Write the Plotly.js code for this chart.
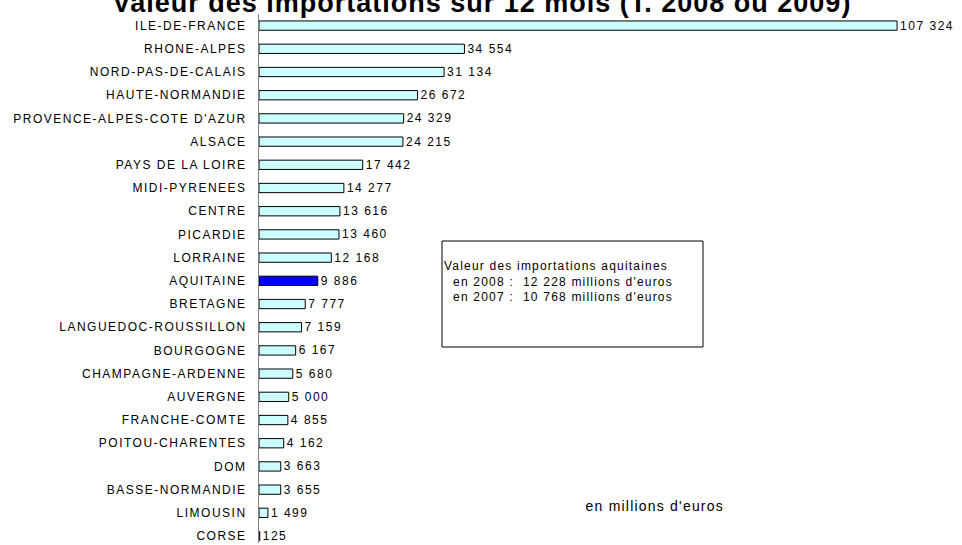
<!DOCTYPE html>
<html>
<head>
<meta charset="utf-8">
<script src="https://cdn.plot.ly/plotly-3.0.1.min.js"></script>
<style>
html,body{margin:0;padding:0;background:#fff;}
#chart{width:962px;height:545px;}
#chart .ytick text{letter-spacing:1.5px;}
.bartext{letter-spacing:1.5px;}
#chart .annotation-text{letter-spacing:1.2px;}
#chart .annotation:nth-of-type(2) .annotation-text{letter-spacing:1.5px;}
.gtitle{letter-spacing:1px;}
</style>
</head>
<body>
<div id="chart"></div>
<script>
const regions = ["ILE-DE-FRANCE","RHONE-ALPES","NORD-PAS-DE-CALAIS","HAUTE-NORMANDIE","PROVENCE-ALPES-COTE D'AZUR","ALSACE","PAYS DE LA LOIRE","MIDI-PYRENEES","CENTRE","PICARDIE","LORRAINE","AQUITAINE","BRETAGNE","LANGUEDOC-ROUSSILLON","BOURGOGNE","CHAMPAGNE-ARDENNE","AUVERGNE","FRANCHE-COMTE","POITOU-CHARENTES","DOM","BASSE-NORMANDIE","LIMOUSIN","CORSE"];
const importValues = [107324,34554,31134,26672,24329,24215,17442,14277,13616,13460,12168,9886,7777,7159,6167,5680,5000,4855,4162,3663,3655,1499,125];
const highlightRegion = "AQUITAINE";
const titleText = "Valeur des importations sur 12 mois (T. 2008 ou 2009)";
const boxLines = ["Valeur des importations aquitaines","  en 2008 :  12 228 millions d'euros","  en 2007 :  10 768 millions d'euros"];
const unitNote = "en millions d'euros";

const colors = regions.map(r => r === highlightRegion ? "#0000FF" : "#CCFFFF");
const FONT = "Liberation Sans, Arial, sans-serif";

const trace = {
  type: "bar",
  orientation: "h",
  x: importValues,
  y: regions,
  marker: {color: colors, line: {color: "#000000", width: 1}},
  width: 0.4,
  texttemplate: "%{x:,}",
  textposition: "outside",
  constraintext: "none",
  cliponaxis: false,
  textfont: {family: FONT, size: 12, color: "#000"},
  hoverinfo: "none"
};

const L = 259, R = 49, T = 14, B = 2;
const PW = 962 - L - R, PH = 545 - T - B;
const px = x => (x - L) / PW;
const py = y => (545 - B - y) / PH;

const layout = {
  width: 962, height: 545,
  margin: {l: L, r: R, t: T, b: B},
  separators: ", ",
  paper_bgcolor: "#fff", plot_bgcolor: "#fff",
  showlegend: false,
  font: {family: FONT, size: 12, color: "#000"},
  title: {text: "<b>" + titleText + "</b>", font: {family: FONT, size: 27, color: "#000"},
          x: 482/962, xref: "container", xanchor: "center", y: 1 - 2.5/545, yref: "container", yanchor: "middle"},
  xaxis: {range: [0, 110000], visible: false, fixedrange: true},
  yaxis: {
    type: "category",
    range: [22.3, -0.5],
    showline: true, linecolor: "#808080", linewidth: 1,
    showgrid: false, zeroline: false,
    ticks: "", ticklen: 0,
    ticklabelstandoff: 9,
    tickfont: {family: FONT, size: 12, color: "#000"}
  },
  shapes: [
    {type: "rect", xref: "paper", yref: "paper", x0: px(442), x1: px(703), y0: py(347), y1: py(241), line: {color: "#000", width: 1}, fillcolor: "rgba(0,0,0,0)"}
  ],
  annotations: [
    {xref: "paper", yref: "paper", x: px(442), y: py(257), xanchor: "left", yanchor: "top", align: "left", showarrow: false,
     text: boxLines.join("<br>"), font: {family: FONT, size: 12, color: "#000"}},
    {xref: "paper", yref: "paper", x: px(655), y: py(506), xanchor: "center", yanchor: "middle", showarrow: false,
     text: unitNote, font: {family: FONT, size: 14, color: "#000"}}
  ]
};

Plotly.newPlot("chart", [trace], layout, {displayModeBar: false, staticPlot: true});
</script>
</body>
</html>
